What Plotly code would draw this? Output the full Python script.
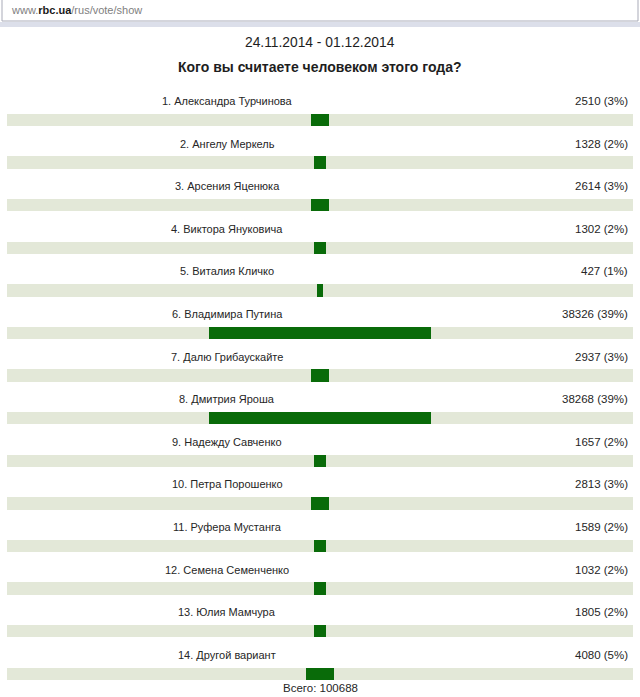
import plotly.graph_objects as go

# ---- data ----
names = [
    "1. Александра Турчинова",
    "2. Ангелу Меркель",
    "3. Арсения Яценюка",
    "4. Виктора Януковича",
    "5. Виталия Кличко",
    "6. Владимира Путина",
    "7. Далю Грибаускайте",
    "8. Дмитрия Яроша",
    "9. Надежду Савченко",
    "10. Петра Порошенко",
    "11. Руфера Мустанга",
    "12. Семена Семенченко",
    "13. Юлия Мамчура",
    "14. Другой вариант",
]
votes = [2510, 1328, 2614, 1302, 427, 38326, 2937, 38268, 1657, 2813, 1589, 1032, 1805, 4080]
percents = [3, 2, 3, 2, 1, 39, 3, 39, 2, 3, 2, 2, 2, 5]
total = 100688
date_range = "24.11.2014 - 01.12.2014"
question = "Кого вы считаете человеком этого года?"
url_parts = ("www.", "rbc.ua", "/rus/vote/show")

# ---- layout constants ----
W, H = 640, 697
px_per_pct = 5.7
row0_px = 120.0
row_step = 42.6
track_half = 54.9
bar_h = 0.29

FONT = "Liberation Sans, Arial, sans-serif"
TRACK = "#e3e8d8"
GREEN = "#096b09"
TEXT = "#262626"

idx = list(range(len(names)))

fig = go.Figure()
# background tracks
fig.add_trace(go.Bar(
    orientation="h", y=idx, x=[2 * track_half] * len(idx), base=[-track_half] * len(idx),
    width=bar_h, marker=dict(color=TRACK, line=dict(width=0)), hoverinfo="skip", showlegend=False,
))
# centred value bars
fig.add_trace(go.Bar(
    orientation="h", y=idx, x=percents, base=[-p / 2 for p in percents],
    width=bar_h, marker=dict(color=GREEN, line=dict(width=0)),
    customdata=votes, hovertemplate="%{customdata}<extra></extra>", showlegend=False,
))

ann = []
label_off = 19 / row_step
for i, (n, v, p) in enumerate(zip(names, votes, percents)):
    ann.append(dict(x=227 / W, xref="paper", y=i - label_off, yref="y", text=n,
                    showarrow=False, xanchor="center", yanchor="middle",
                    font=dict(family=FONT, size=11, color=TEXT)))
    ann.append(dict(x=630 / W, xref="paper", y=i - label_off, yref="y", text=f"{v} ({p}%)",
                    showarrow=False, xanchor="right", yanchor="middle",
                    font=dict(family=FONT, size=11.5, color=TEXT)))

ann.append(dict(x=0.5, xref="paper", y=1 - 42 / H, yref="paper", text=date_range,
                showarrow=False, xanchor="center", yanchor="middle",
                font=dict(family=FONT, size=13.8, color="#1e1e1e")))
ann.append(dict(x=0.5, xref="paper", y=1 - 67 / H, yref="paper", text=f"<b>{question}</b>",
                showarrow=False, xanchor="center", yanchor="middle",
                font=dict(family=FONT, size=14, color="#1e1e1e")))
ann.append(dict(x=0.5, xref="paper", y=1 - 688 / H, yref="paper", text=f"Всего: {total}",
                showarrow=False, xanchor="center", yanchor="middle",
                font=dict(family=FONT, size=11.5, color=TEXT)))
ann.append(dict(x=9 / W, xref="paper", y=1 - 10 / H, yref="paper",
                text=(f"<span style='color:#808080'>{url_parts[0]}</span>"
                      f"<b><span style='color:#1a1a1a'>{url_parts[1]}</span></b>"
                      f"<span style='color:#808080'>{url_parts[2]}</span>"),
                showarrow=False, xanchor="left", yanchor="middle",
                font=dict(family=FONT, size=11, color="#808080")))

shapes = [
    # address bar box
    dict(type="rect", xref="paper", yref="paper", x0=2 / W, x1=638 / W, y0=1 - 21 / H, y1=1 + 2 / H,
         line=dict(color="#a9abb8", width=1), fillcolor="white", layer="below"),
    # band beneath
    dict(type="rect", xref="paper", yref="paper", x0=0, x1=1, y0=1 - 27 / H, y1=1 - 22 / H,
         line=dict(width=0), fillcolor="#dcdfea", layer="below"),
]

y_top = -row0_px / row_step
y_bot = (H - row0_px) / row_step
x_half = (W / 2) / px_per_pct

fig.update_layout(
    width=W, height=H, margin=dict(l=0, r=0, t=0, b=0),
    paper_bgcolor="white", plot_bgcolor="white",
    barmode="overlay", bargap=0,
    xaxis=dict(range=[-x_half, x_half], visible=False, fixedrange=True),
    yaxis=dict(range=[y_bot, y_top], visible=False, fixedrange=True),
    annotations=ann, shapes=shapes,
)

fig.write_html(
    "out.html",
    config={"displayModeBar": False},
    post_script="document.body.style.margin='0';document.body.style.padding='0';",
)
